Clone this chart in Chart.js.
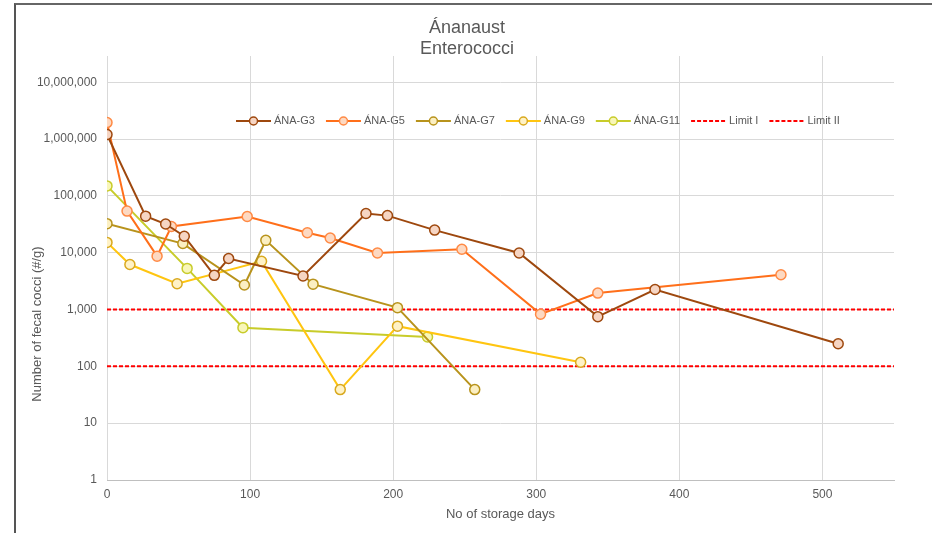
<!DOCTYPE html>
<html>
<head>
<meta charset="utf-8">
<script src="https://cdn.jsdelivr.net/npm/chart.js@4"></script>
<style>
    body { margin: 0; background: #fff; }
    #frame { position: absolute; left: 14px; top: 3px; width: 930px; height: 528px;
             border-left: 2px solid #555; border-top: 2px solid #666; border-bottom: 1px solid #e4e4e4; }
    #wrap { position: absolute; left: 0; top: 0; width: 932px; height: 533px; }
</style>
</head>
<body>
<div id="frame"></div>
<div id="wrap"><canvas id="chart" width="932" height="533"></canvas></div>
<script>
const titleLines = ["Ánanaust", "Enterococci"];
const xTitle = "No of storage days";
const yTitle = "Number of fecal cocci (#/g)";
const xTicks = [0, 100, 200, 300, 400, 500];
const yTicks = [1, 10, 100, 1000, 10000, 100000, 1000000, 10000000];

const g3Days = [0, 27, 41, 54, 75, 85, 137, 181, 196, 229, 288, 343, 383, 511];
const g3Counts = [1200000, 44000, 32000, 19500, 4000, 7900, 3900, 49000, 45000, 25000, 9900, 750, 2250, 250];
const g5Days = [0, 14, 35, 45, 98, 140, 156, 189, 248, 303, 343, 471];
const g5Counts = [1950000, 54000, 8700, 29000, 43500, 22500, 18200, 9900, 11500, 830, 1950, 4100];
const g7Days = [0, 53, 96, 111, 144, 203, 257];
const g7Counts = [32500, 14500, 2700, 16500, 2800, 1080, 39];
const g9Days = [0, 16, 49, 108, 163, 203, 331];
const g9Counts = [15200, 6200, 2850, 7050, 39, 510, 118];
const g11Days = [0, 56, 95, 224];
const g11Counts = [150000, 5300, 480, 330];
const limitDays = [0, 550];
const limit1 = [1000, 1000];
const limit2 = [100, 100];

function pts(xs, ys) {
    return xs.map((x, i) => ({ x: x, y: ys[i] }));
}

function series(label, xs, ys, color, fill, border) {
    return {
        label: label,
        data: pts(xs, ys),
        borderColor: color,
        backgroundColor: color,
        borderWidth: 2,
        pointRadius: 5,
        pointHoverRadius: 5,
        pointBackgroundColor: fill,
        pointBorderColor: border,
        pointBorderWidth: 1.5,
        showLine: true,
        tension: 0
    };
}

function limit(label, ys) {
    return {
        label: label,
        data: pts(limitDays, ys),
        borderColor: "#FF0000",
        backgroundColor: "#FF0000",
        borderWidth: 2,
        borderDash: [4, 2],
        pointRadius: 0,
        showLine: true,
        tension: 0
    };
}

const fontFamily = "'Liberation Sans', Arial, sans-serif";
const textColor = "#595959";

const labelsPlugin = {
    id: "labels",
    afterDraw(chart) {
        const ctx = chart.ctx;
        const area = chart.chartArea;
        ctx.save();
        ctx.fillStyle = textColor;
        ctx.textAlign = "center";
        ctx.textBaseline = "middle";
        ctx.font = "18px " + fontFamily;
        ctx.fillText(titleLines[0], 467, 28);
        ctx.fillText(titleLines[1], 467, 49);

        ctx.font = "13px " + fontFamily;
        ctx.fillText(xTitle, (area.left + area.right) / 2, 514);
        ctx.translate(37, 324);
        ctx.rotate(-Math.PI / 2);
        ctx.fillText(yTitle, 0, 0);
        ctx.restore();

        // legend row inside the plot
        ctx.save();
        ctx.font = "11px " + fontFamily;
        ctx.textBaseline = "middle";
        let x = 236;
        const y = 121;
        chart.data.datasets.forEach(ds => {
            ctx.strokeStyle = ds.borderColor;
            ctx.lineWidth = 2;
            ctx.setLineDash(ds.borderDash || []);
            ctx.beginPath();
            ctx.moveTo(x, y);
            ctx.lineTo(x + 35, y);
            ctx.stroke();
            ctx.setLineDash([]);
            if (ds.pointRadius > 0) {
                ctx.beginPath();
                ctx.arc(x + 17.5, y, 4, 0, Math.PI * 2);
                ctx.fillStyle = ds.pointBackgroundColor;
                ctx.fill();
                ctx.strokeStyle = ds.pointBorderColor;
                ctx.lineWidth = 1.5;
                ctx.stroke();
            }
            ctx.fillStyle = textColor;
            ctx.fillText(ds.label, x + 38, y);
            x += 38 + ctx.measureText(ds.label).width + 11;
        });
        ctx.restore();
    }
};

const ctx = document.getElementById("chart").getContext("2d");
new Chart(ctx, {
    type: "scatter",
    data: {
        datasets: [
            series("ÁNA-G3", g3Days, g3Counts, "#9E480E", "#F6D5C3", "#9E480E"),
            series("ÁNA-G5", g5Days, g5Counts, "#FF6F1A", "#FDD9C2", "#FF8A45"),
            series("ÁNA-G7", g7Days, g7Counts, "#B8931C", "#FBEFC2", "#B8931C"),
            series("ÁNA-G9", g9Days, g9Counts, "#FFC510", "#FFF2C6", "#D9A91E"),
            series("ÁNA-G11", g11Days, g11Counts, "#C8CC2A", "#F8F6B8", "#C8CC2A"),
            limit("Limit I", limit1),
            limit("Limit II", limit2)
        ]
    },
    options: {
        responsive: false,
        animation: false,
        layout: { padding: { top: 56, right: 38, left: 0, bottom: 0 } },
        plugins: {
            legend: { display: false },
            title: { display: false },
            tooltip: { enabled: false }
        },
        scales: {
            x: {
                type: "linear",
                min: 0,
                max: 550,
                afterBuildTicks: s => { s.ticks = xTicks.map(v => ({ value: v })); },
                afterFit: s => { s.height = 53; },
                ticks: { color: textColor, font: { size: 12, family: fontFamily }, padding: 7 },
                grid: { color: "#D9D9D9", drawTicks: false },
                border: { color: "#BFBFBF" }
            },
            y: {
                type: "logarithmic",
                min: 1,
                max: 29000000,
                afterBuildTicks: s => { s.ticks = yTicks.map(v => ({ value: v })); },
                afterFit: s => { s.width = 107; },
                ticks: {
                    color: textColor,
                    font: { size: 12, family: fontFamily },
                    padding: 10,
                    callback: v => Number(v).toLocaleString("en-US")
                },
                grid: { color: "#D9D9D9", drawTicks: false },
                border: { display: false }
            }
        }
    },
    plugins: [labelsPlugin]
});
</script>
</body>
</html>
